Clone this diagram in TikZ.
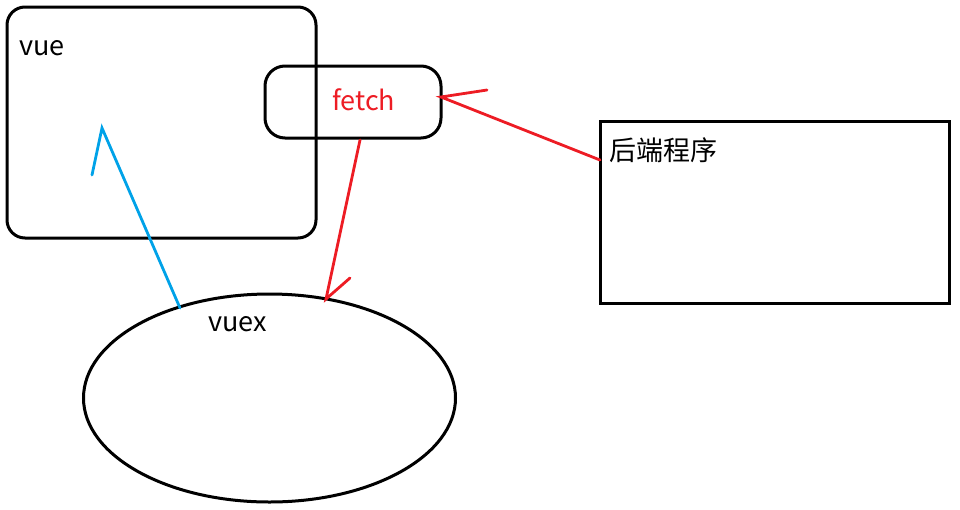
\documentclass[tikz,border=0pt]{standalone}
\usepackage{fontspec}
\setmainfont{Noto Sans CJK SC}
\begin{document}
\begin{tikzpicture}[x=1pt,y=-1pt,
  box/.style={draw=black,line width=3pt},
  lbl/.style={anchor=west,inner sep=0pt,font=\fontsize{27}{30}\selectfont},
  redline/.style={draw={rgb,255:red,237;green,28;blue,36},line width=2.8pt,line cap=round},
  blueline/.style={draw={rgb,255:red,0;green,162;blue,232},line width=2.8pt,line cap=round}]
\useasboundingbox (0,0) rectangle (960,509);
% boxes
\draw[box,rounded corners=18pt] (7,7) rectangle (316,238);
\draw[box,rounded corners=20pt] (265,66) rectangle (441,138);
\draw[box] (600,121) rectangle (949,303);
\draw[box] (269.5,398) ellipse [x radius=186, y radius=104];
% named anchor coordinates
\coordinate (vueTip) at (102,128);
\coordinate (vueBarb) at (92,175);
\coordinate (vuexTop) at (180,308);
\coordinate (fetchR) at (441,97);
\coordinate (fetchBarb) at (487,90);
\coordinate (backL) at (600,160);
\coordinate (fetchB) at (360,140);
\coordinate (vuexHit) at (326,299);
\coordinate (vuexBarb) at (350,278);
% labels
\node[lbl] (vue) at (19,48) {vue};
\node[lbl,text={rgb,255:red,237;green,28;blue,36}] (fetch) at (332,100) {fetch};
\node[lbl,font=\fontsize{27}{30}\selectfont] (back) at (609,150) {后端程序};
\node[lbl] (vuex) at (208,324) {vuex};
% connectors
\draw[redline] (backL) -- (fetchR) -- (fetchBarb);
\draw[redline] (fetchB) -- (vuexHit) -- (vuexBarb);
\draw[blueline] (vuexTop) -- (vueTip) -- (vueBarb);
\end{tikzpicture}
\end{document}
